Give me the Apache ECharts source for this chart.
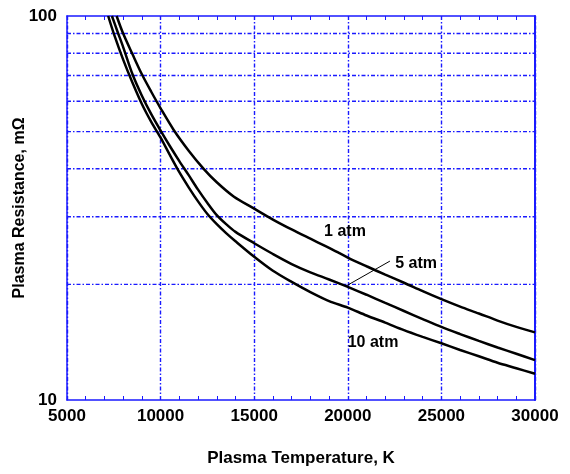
<!DOCTYPE html>
<html>
<head>
<meta charset="utf-8">
<script src="https://cdn.jsdelivr.net/npm/echarts@6/dist/echarts.min.js"></script>
<style>html,body{margin:0;padding:0;background:#fff;}#c{width:570px;height:474px;}</style>
</head>
<body>
<div id="c"></div>
<script>
// Data (Plasma Temperature K, Plasma Resistance mΩ)
var atm1 = [[7650,100],[8000,90],[8500,79.5],[9000,70.5],[9500,63.5],[10000,57.5],[10700,50.5],[11500,44.6],[12300,40],[13000,36.9],[13900,33.9],[15000,31.5],[16000,29.5],[17000,27.8],[18000,26.3],[19000,24.9],[20000,23.5],[21000,22.3],[22000,21.2],[23000,20.2],[24000,19.2],[25000,18.3],[26000,17.5],[27000,16.8],[28000,16.1],[29000,15.5],[30000,15.0]];
var atm5 = [[7400,100],[7700,91],[8000,83],[8500,70.5],[9000,62],[9500,55.5],[10000,50.3],[10500,45.8],[11000,41.9],[11500,38.5],[12000,35.3],[12500,32.6],[13000,30.3],[13500,28.7],[14000,27.4],[15000,25.6],[16000,24.0],[17000,22.6],[18000,21.5],[19000,20.6],[20000,19.7],[21000,18.8],[22000,17.9],[23000,17.05],[24000,16.25],[25000,15.5],[26000,14.85],[27000,14.25],[28000,13.7],[29000,13.2],[30000,12.7]];
var atm10 = [[7200,100],[7500,90],[8000,77],[8500,67],[9000,59],[9500,53],[10000,48.2],[10500,43.4],[11000,39.2],[11500,35.8],[12000,32.9],[12500,30.5],[13000,28.7],[13500,27.2],[14000,25.9],[15000,23.6],[16000,21.7],[17000,20.3],[18000,19.1],[19000,18.1],[20000,17.4],[21000,16.6],[22000,15.9],[23000,15.2],[24000,14.6],[25000,14.05],[26000,13.5],[27000,13.0],[28000,12.5],[29000,12.1],[30000,11.7]];
var seriesNames = ['1 atm','5 atm','10 atm'];
var labelPos = [[19850,27.4],[23650,22.7],[21350,14.1]];
var arrowFrom = [22250,23.0];
var arrowTo = [19900,19.8];
var hGrid = [20,30,40,50,60,70,80,90];
var xTicks = {min:5000, max:30000, interval:5000};
var yTicks = {min:10, max:100};

var blue = '#1a1aff';
function gridStyle(){ return {color: blue, width: 1.4, type: [4,2,1.5,2], opacity:1}; }
var font = 'Liberation Sans, Arial, sans-serif';
var chart = echarts.init(document.getElementById('c'), null, {renderer:'canvas'});

function lbl(i){
  return {
    coord: labelPos[i], symbol:'circle', symbolSize:1, itemStyle:{color:'rgba(0,0,0,0)'},
    label:{show:true, position:'inside', formatter: seriesNames[i], color:'#000', fontWeight:'bold', fontSize:16, fontFamily:font}
  };
}
function lineCommon(){ return {type:'line', showSymbol:false, smooth:0.3, lineStyle:{color:'#000', width:2.5}, itemStyle:{color:'#000'}, silent:true, z:5}; }

var gridSeries = hGrid.map(function(v){
  return {type:'line', data:[[xTicks.min, v],[xTicks.max, v]], showSymbol:false, silent:true, z:1,
    color: blue, itemStyle:{color:blue}, lineStyle: gridStyle(), emphasis:{disabled:true}};
});

chart.setOption({
  animation:false,
  backgroundColor:'#fff',
  grid:{left:67, right:35, top:16, bottom:74, outerBoundsMode:'none', containLabel:false},
  xAxis:[{
    type:'value', min:xTicks.min, max:xTicks.max, interval:xTicks.interval, position:'bottom',
    name:'Plasma Temperature, K', nameLocation:'middle', nameGap:50, nameMoveOverlap:false,
    nameTextStyle:{color:'#000', fontWeight:'bold', fontSize:17, fontFamily:font},
    axisLine:{show:true, lineStyle:{color:blue, width:1.5}},
    axisTick:{show:true, inside:true, length:4, lineStyle:{color:blue}},
    minorTick:{show:true, splitNumber:5, length:4, lineStyle:{color:blue}},
    axisLabel:{color:'#000', fontWeight:'bold', fontSize:17, fontFamily:font, margin:8,
      formatter:function(v){return String(v);}},
    splitLine:{show:true, lineStyle:gridStyle()}
  },{
    type:'value', min:xTicks.min, max:xTicks.max, interval:xTicks.interval, position:'top',
    axisLine:{show:true, lineStyle:{color:blue, width:1.5}},
    axisTick:{show:true, inside:true, length:4, lineStyle:{color:blue}},
    minorTick:{show:true, splitNumber:5, length:4, lineStyle:{color:blue}},
    axisLabel:{show:false}, splitLine:{show:false}
  }],
  yAxis:[{
    type:'log', logBase:10, min:yTicks.min, max:yTicks.max, position:'left',
    name:'Plasma Resistance, mΩ', nameLocation:'middle', nameGap:39, nameMoveOverlap:false,
    nameTextStyle:{color:'#000', fontWeight:'bold', fontSize:16, fontFamily:font},
    axisLine:{show:true, lineStyle:{color:blue, width:1.5}},
    axisTick:{show:false},
    axisLabel:{color:'#000', fontWeight:'bold', fontSize:17, fontFamily:font, margin:10},
    splitLine:{show:false}
  },{
    type:'log', logBase:10, min:yTicks.min, max:yTicks.max, position:'right',
    axisLine:{show:true, lineStyle:{color:blue, width:2}},
    axisTick:{show:false}, axisLabel:{show:false}, splitLine:{show:false}
  }],
  series: gridSeries.concat([
    Object.assign(lineCommon(), {name:seriesNames[0], data:atm1,
      markPoint:{silent:true, data:[lbl(0)]}
    }),
    Object.assign(lineCommon(), {name:seriesNames[1], data:atm5,
      markLine:{silent:true, symbol:['none','arrow'], symbolSize:[0,9], label:{show:false},
        lineStyle:{color:'#000', width:1, type:'solid'},
        data:[[{coord:arrowFrom},{coord:arrowTo}]]},
      markPoint:{silent:true, data:[lbl(1)]}
    }),
    Object.assign(lineCommon(), {name:seriesNames[2], data:atm10,
      markPoint:{silent:true, data:[lbl(2)]}
    })
  ])
});
</script>
</body>
</html>
